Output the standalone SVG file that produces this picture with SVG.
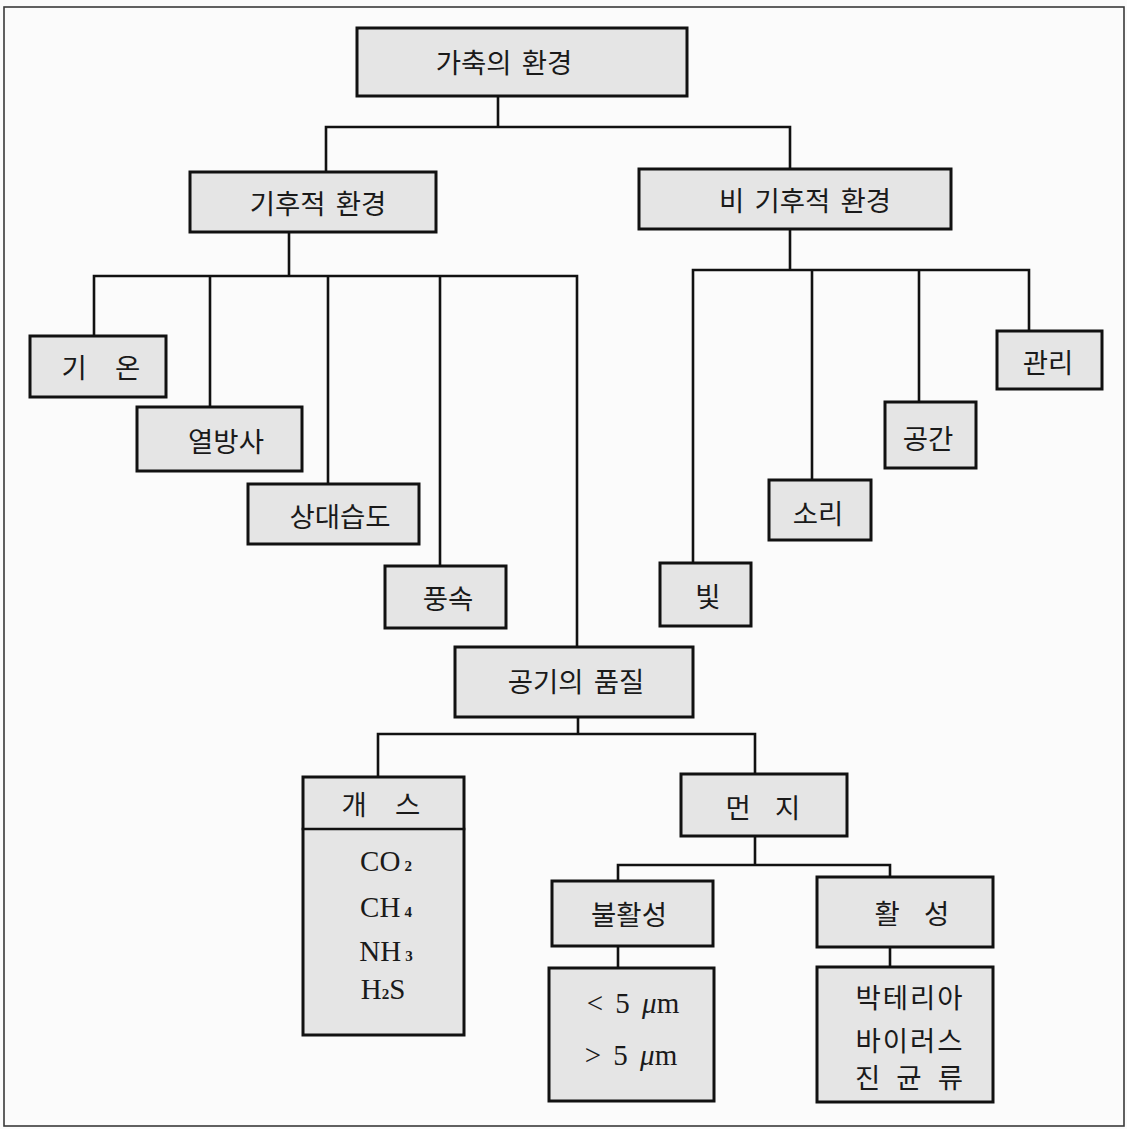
<svg xmlns="http://www.w3.org/2000/svg" width="1127" height="1129" viewBox="0 0 1127 1129">
<style>
.bg{fill:#fbfbfb}
.frame{fill:none;stroke:#3a3a3a;stroke-width:1.6}
.box{fill:#e5e5e5;stroke:#111;stroke-width:3}
.ln{fill:none;stroke:#111;stroke-width:2.6;stroke-linecap:square}
.k{font-family:"Noto Sans CJK KR","Noto Sans",sans-serif;font-size:27.5px;fill:#1a1a1a;text-anchor:middle;dominant-baseline:central}
.s{font-family:"Liberation Serif","Times New Roman",serif;font-size:29px;fill:#1a1a1a;text-anchor:middle}
.sub{font-size:15px;font-weight:bold}
</style>
<rect class="bg" x="0" y="0" width="1127" height="1129"/>
<rect class="frame" x="4" y="7" width="1120" height="1119"/>
<g id="connectors">
<path class="ln" d="M498 96V127M326 127H790M326 127V172M790 127V169"/>
<path class="ln" d="M289 232V276M94 276H577M94 276V336M210 276V407M328 276V484M440 276V566M577 276V647"/>
<path class="ln" d="M790 229V270M693 270H1029M693 270V563M812 270V480M919 270V402M1029 270V331"/>
<path class="ln" d="M578 717V734M378 734H755M378 734V777M755 734V774"/>
<path class="ln" d="M755 836V865M618 865H890M618 865V881M890 865V877"/>
<path class="ln" d="M618 946V968M890 947V967"/>
</g>
<g id="n-root"><rect class="box" x="357" y="28" width="330" height="68"/><text class="k" x="504" y="61" word-spacing="4">가축의 환경</text></g>
<g id="n-climatic"><rect class="box" x="190" y="172" width="246" height="60"/><text class="k" x="318" y="202" word-spacing="4">기후적 환경</text></g>
<g id="n-nonclimatic"><rect class="box" x="639" y="169" width="312" height="60"/><text class="k" x="805" y="199" word-spacing="4">비 기후적 환경</text></g>
<g id="n-temp"><rect class="box" x="30" y="336" width="136" height="61"/><text class="k" x="101" y="366" word-spacing="22">기 온</text></g>
<g id="n-radiation"><rect class="box" x="137" y="407" width="165" height="64"/><text class="k" x="226" y="440">열방사</text></g>
<g id="n-humidity"><rect class="box" x="248" y="484" width="171" height="60"/><text class="k" x="340" y="515">상대습도</text></g>
<g id="n-wind"><rect class="box" x="385" y="566" width="121" height="62"/><text class="k" x="448" y="597">풍속</text></g>
<g id="n-air"><rect class="box" x="455" y="647" width="238" height="70"/><text class="k" x="576" y="680" word-spacing="4">공기의 품질</text></g>
<g id="n-light"><rect class="box" x="660" y="563" width="91" height="63"/><text class="k" x="708" y="595">빛</text></g>
<g id="n-sound"><rect class="box" x="769" y="480" width="102" height="60"/><text class="k" x="818" y="512">소리</text></g>
<g id="n-space"><rect class="box" x="885" y="402" width="91" height="66"/><text class="k" x="928" y="437">공간</text></g>
<g id="n-manage"><rect class="box" x="997" y="331" width="105" height="58"/><text class="k" x="1048" y="361">관리</text></g>
<g id="n-gas"><rect class="box" x="303" y="777" width="161" height="258"/><path class="ln" d="M303 829H464"/><text class="k" x="381" y="803" word-spacing="22">개 스</text>
<text class="s" x="386" y="871">CO<tspan class="sub" dx="4">2</tspan></text>
<text class="s" x="386" y="917">CH<tspan class="sub" dx="4">4</tspan></text>
<text class="s" x="386" y="961">NH<tspan class="sub" dx="4">3</tspan></text>
<text class="s" x="383" y="999">H<tspan class="sub">2</tspan>S</text>
</g>
<g id="n-dust"><rect class="box" x="681" y="774" width="166" height="62"/><text class="k" x="763" y="806" word-spacing="18">먼 지</text></g>
<g id="n-inactive"><rect class="box" x="552" y="881" width="161" height="65"/><text class="k" x="629" y="913">불활성</text></g>
<g id="n-size"><rect class="box" x="549" y="968" width="165" height="133"/>
<text class="s" x="633" y="1013" word-spacing="5">&lt; 5 <tspan font-style="italic">μ</tspan>m</text>
<text class="s" x="631" y="1065" word-spacing="5">&gt; 5 <tspan font-style="italic">μ</tspan>m</text>
</g>
<g id="n-active"><rect class="box" x="817" y="877" width="176" height="70"/><text class="k" x="912" y="912" word-spacing="18">활 성</text></g>
<g id="n-bio"><rect class="box" x="817" y="967" width="176" height="135"/>
<text class="k" x="910" y="996" letter-spacing="2">박테리아</text>
<text class="k" x="910" y="1039" letter-spacing="2">바이러스</text>
<text class="k" x="909" y="1076" word-spacing="10">진 균 류</text>
</g>
</svg>
